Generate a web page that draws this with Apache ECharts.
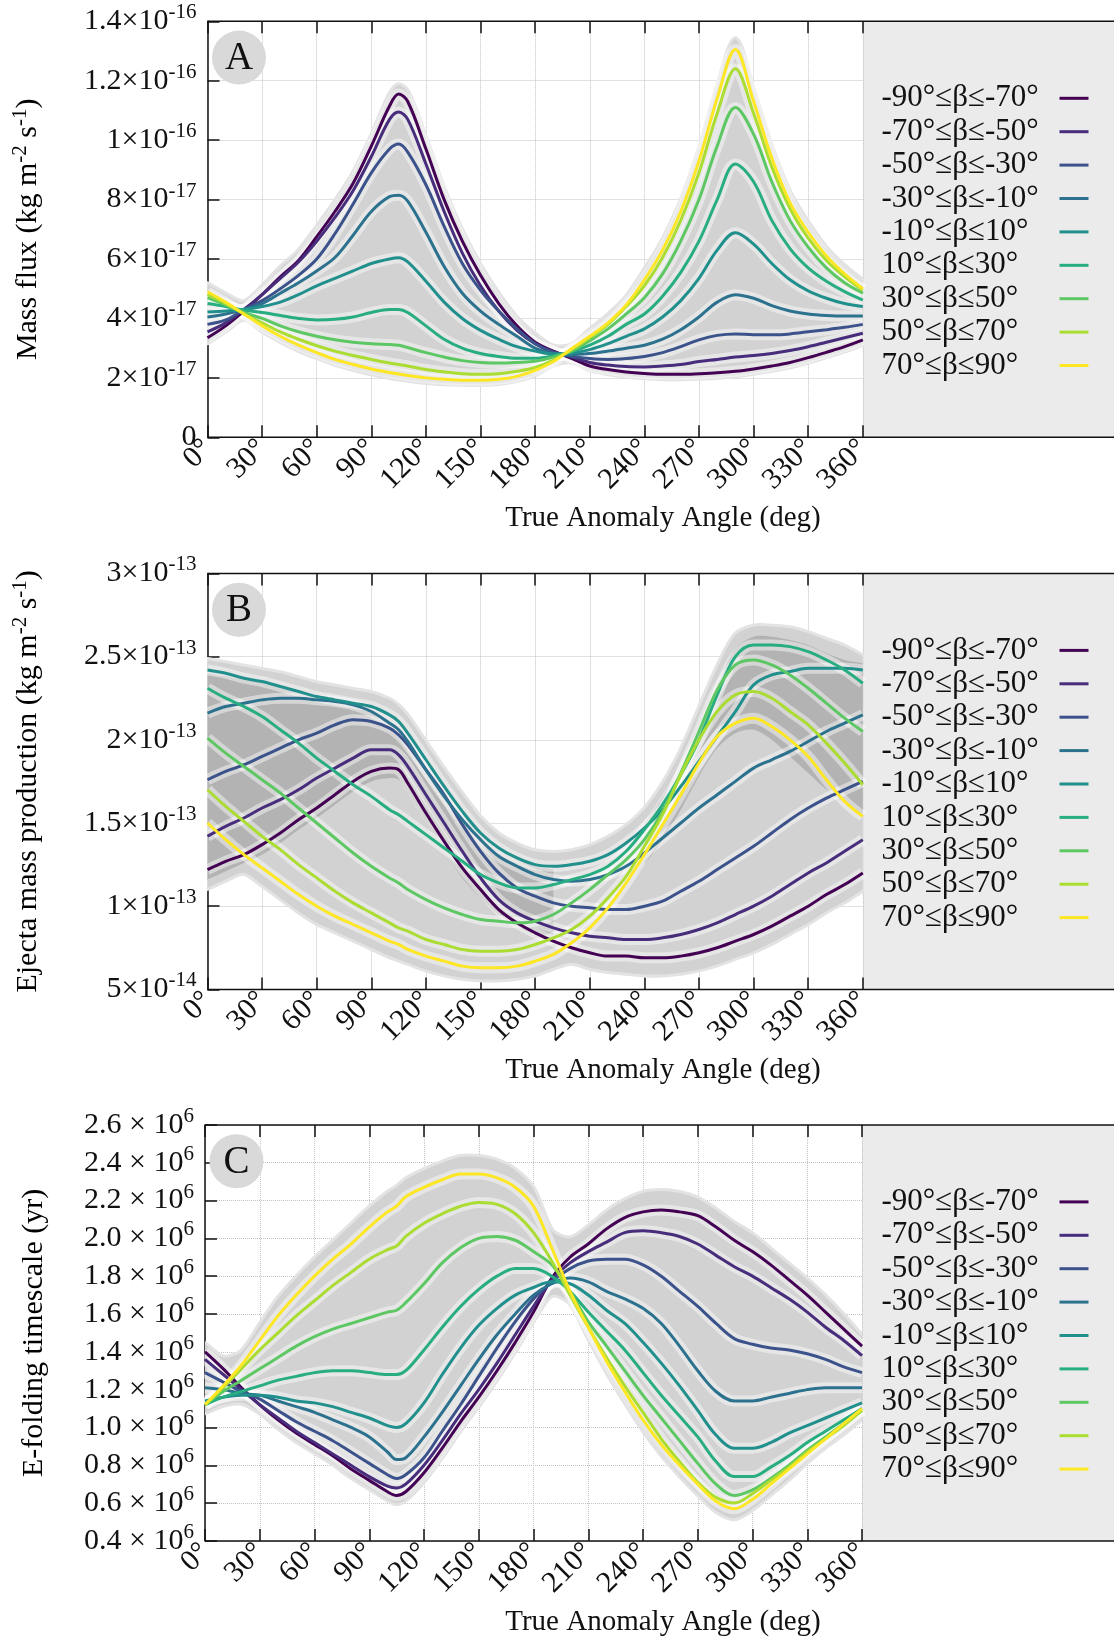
<!DOCTYPE html>
<html>
<head>
<meta charset="utf-8">
<script src="https://cdn.jsdelivr.net/npm/echarts@6/dist/echarts.min.js"></script>
<style>
  html, body { margin: 0; padding: 0; background: #fff; }
  #chart { width: 1114px; height: 1642px; }
</style>
</head>
<body>
<div id="chart"></div>
<script>
// true anomaly angle (deg), shared by all three panels
const angles = [0,10,20,30,40,50,60,70,80,90,100,105,110,120,130,140,150,160,170,180,190,200,210,220,230,240,250,260,270,280,290,300,310,320,330,340,350,360];

const bandNames = ['-90°≤β≤-70°','-70°≤β≤-50°','-50°≤β≤-30°','-30°≤β≤-10°','-10°≤β≤10°','10°≤β≤30°','30°≤β≤50°','50°≤β≤70°','70°≤β≤90°'];
const bandColors = ['#440154','#472D7B','#3B528B','#2C728E','#21908C','#27AD81','#5DC863','#AADC32','#FDE725'];

const xTickLabels = ['0°','30°','60°','90°','120°','150°','180°','210°','240°','270°','300°','330°','360°'];

// ---- panel A : mass flux, in units of 1e-17 kg m^-2 s^-1 ----
const fluxA0 = [3.35,3.75,4.25,4.8,5.4,5.95,6.75,7.6,8.55,9.8,11.15,11.55,11.3,9.7,8.0,6.6,5.45,4.5,3.75,3.2,2.9,2.66,2.4,2.28,2.2,2.15,2.12,2.12,2.14,2.17,2.22,2.3,2.4,2.52,2.68,2.86,3.05,3.28];
const fluxA1 = [3.55,3.85,4.3,4.8,5.35,5.9,6.6,7.4,8.3,9.45,10.7,10.95,10.7,9.2,7.6,6.2,5.1,4.25,3.6,3.15,2.88,2.7,2.52,2.43,2.38,2.37,2.4,2.45,2.55,2.62,2.7,2.75,2.82,2.92,3.05,3.2,3.35,3.5];
const fluxA2 = [3.8,3.95,4.3,4.6,5.0,5.45,6.0,6.85,7.85,8.9,9.7,9.87,9.6,8.5,7.1,5.85,4.95,4.25,3.65,3.15,2.86,2.72,2.65,2.62,2.65,2.72,2.85,3.05,3.28,3.43,3.48,3.45,3.45,3.48,3.55,3.62,3.7,3.8];
const fluxA3 = [4.05,4.15,4.3,4.5,4.85,5.2,5.6,6.05,6.8,7.6,8.1,8.15,7.95,6.9,5.75,4.85,4.25,3.8,3.4,3.0,2.82,2.78,2.82,2.9,3.0,3.1,3.3,3.62,4.05,4.55,4.8,4.68,4.43,4.25,4.15,4.1,4.08,4.08];
const fluxA4 = [4.22,4.25,4.3,4.4,4.55,4.8,5.1,5.35,5.6,5.85,6.0,6.04,5.9,5.25,4.55,4.0,3.6,3.3,3.05,2.9,2.8,2.83,2.95,3.15,3.4,3.65,4.05,4.6,5.35,6.3,6.88,6.5,5.85,5.3,4.93,4.68,4.5,4.4];
const fluxA5 = [4.5,4.4,4.28,4.2,4.1,4.0,3.95,3.97,4.05,4.2,4.3,4.3,4.2,3.75,3.3,3.0,2.82,2.72,2.66,2.66,2.74,2.88,3.1,3.4,3.8,4.15,4.75,5.55,6.6,8.0,9.2,8.6,7.3,6.35,5.7,5.25,4.9,4.62];
const fluxA6 = [4.7,4.45,4.2,4.0,3.75,3.55,3.4,3.28,3.2,3.15,3.12,3.1,3.02,2.85,2.7,2.58,2.52,2.5,2.52,2.56,2.7,2.9,3.25,3.65,4.15,4.7,5.5,6.6,8.0,9.8,11.1,10.2,8.6,7.3,6.4,5.7,5.2,4.85];
const fluxA7 = [4.8,4.5,4.15,3.85,3.55,3.3,3.08,2.9,2.75,2.62,2.5,2.45,2.4,2.28,2.2,2.14,2.12,2.14,2.22,2.35,2.6,2.95,3.35,3.8,4.4,5.1,6.05,7.3,8.9,10.9,12.4,10.9,9.1,7.7,6.7,5.95,5.4,4.95];
const fluxA8 = [4.9,4.55,4.15,3.75,3.4,3.1,2.85,2.62,2.45,2.3,2.18,2.13,2.08,2.0,1.95,1.92,1.92,1.95,2.05,2.25,2.55,2.98,3.4,3.85,4.45,5.3,6.3,7.6,9.3,11.4,13.05,11.3,9.4,7.9,6.9,6.1,5.5,5.0];
const envHiA = [5.15,4.8,4.55,5.05,5.7,6.25,7.05,7.9,8.85,10.1,11.5,11.85,11.6,10.0,8.3,6.9,5.75,4.8,4.0,3.45,3.05,3.1,3.6,4.1,4.7,5.6,6.6,7.9,9.6,11.7,13.4,11.6,9.7,8.2,7.2,6.35,5.75,5.25];
const envLoA = [3.2,3.6,4.0,3.6,3.25,2.95,2.7,2.48,2.3,2.15,2.03,1.98,1.94,1.86,1.82,1.8,1.8,1.83,1.93,2.12,2.45,2.55,2.29,2.16,2.07,2.02,1.99,1.99,2.01,2.04,2.09,2.17,2.27,2.39,2.55,2.73,2.92,3.15];
const yLabelsA = [['0',''],['2×10','-17'],['4×10','-17'],['6×10','-17'],['8×10','-17'],['1×10','-16'],['1.2×10','-16'],['1.4×10','-16']];

// ---- panel B : ejecta mass production, in units of 1e-13 kg m^-2 s^-1 ----
const ejectaB0 = [1.22,1.27,1.31,1.37,1.44,1.52,1.59,1.67,1.75,1.81,1.83,1.82,1.74,1.56,1.39,1.23,1.1,0.98,0.9,0.84,0.79,0.75,0.72,0.7,0.7,0.69,0.69,0.7,0.72,0.75,0.79,0.83,0.88,0.94,1.0,1.07,1.13,1.2];
const ejectaB1 = [1.42,1.48,1.53,1.59,1.64,1.7,1.77,1.83,1.89,1.94,1.94,1.91,1.84,1.67,1.5,1.33,1.17,1.04,0.96,0.91,0.87,0.84,0.82,0.81,0.8,0.8,0.81,0.83,0.86,0.9,0.95,1.0,1.06,1.13,1.2,1.26,1.33,1.4];
const ejectaB2 = [1.76,1.81,1.85,1.9,1.95,2.0,2.04,2.09,2.12,2.11,2.07,2.03,1.97,1.82,1.67,1.49,1.33,1.2,1.11,1.06,1.02,1.0,0.99,0.98,0.98,1.0,1.03,1.09,1.15,1.22,1.29,1.36,1.44,1.52,1.59,1.65,1.7,1.75];
const ejectaB3 = [2.16,2.2,2.22,2.24,2.25,2.25,2.24,2.23,2.21,2.17,2.1,2.06,1.99,1.82,1.66,1.52,1.4,1.3,1.24,1.19,1.16,1.15,1.16,1.19,1.24,1.32,1.41,1.5,1.59,1.67,1.75,1.83,1.88,1.93,1.99,2.05,2.1,2.15];
const ejectaB4 = [2.42,2.4,2.37,2.35,2.32,2.29,2.26,2.24,2.22,2.2,2.15,2.11,2.04,1.88,1.72,1.57,1.44,1.35,1.29,1.25,1.24,1.25,1.27,1.31,1.38,1.47,1.58,1.72,1.87,2.02,2.17,2.33,2.39,2.41,2.43,2.43,2.43,2.42];
const ejectaB5 = [2.31,2.25,2.2,2.14,2.06,1.98,1.89,1.81,1.73,1.66,1.58,1.55,1.51,1.43,1.35,1.27,1.19,1.14,1.11,1.11,1.13,1.16,1.19,1.24,1.33,1.46,1.61,1.79,2.0,2.27,2.5,2.57,2.57,2.56,2.53,2.48,2.42,2.34];
const ejectaB6 = [2.01,1.92,1.84,1.76,1.68,1.59,1.5,1.41,1.32,1.24,1.17,1.14,1.1,1.04,0.99,0.95,0.92,0.91,0.9,0.91,0.95,1.02,1.1,1.19,1.28,1.4,1.57,1.8,2.05,2.3,2.45,2.48,2.45,2.39,2.31,2.22,2.13,2.05];
const ejectaB7 = [1.7,1.6,1.51,1.42,1.34,1.25,1.17,1.09,1.02,0.96,0.9,0.87,0.85,0.8,0.77,0.74,0.73,0.73,0.74,0.77,0.81,0.86,0.94,1.05,1.18,1.36,1.55,1.79,2.0,2.17,2.27,2.29,2.25,2.17,2.09,1.98,1.86,1.73];
const ejectaB8 = [1.5,1.4,1.31,1.23,1.15,1.07,1.0,0.94,0.89,0.84,0.79,0.77,0.74,0.7,0.67,0.64,0.63,0.63,0.64,0.67,0.71,0.78,0.87,0.99,1.14,1.31,1.49,1.67,1.86,2.02,2.1,2.13,2.08,2.0,1.9,1.76,1.63,1.54];
const envHiB = [2.48,2.46,2.44,2.42,2.4,2.37,2.34,2.32,2.3,2.28,2.24,2.2,2.14,1.98,1.82,1.67,1.53,1.43,1.37,1.33,1.32,1.33,1.36,1.41,1.48,1.58,1.73,1.93,2.18,2.43,2.63,2.68,2.68,2.67,2.64,2.6,2.56,2.5];
const envLoB = [1.11,1.16,1.2,1.13,1.05,0.97,0.9,0.85,0.8,0.75,0.7,0.68,0.66,0.62,0.59,0.57,0.56,0.56,0.57,0.59,0.63,0.66,0.63,0.61,0.6,0.59,0.59,0.6,0.62,0.65,0.69,0.73,0.78,0.84,0.9,0.97,1.03,1.1];
// darker zones where many spreads overlap (null = none)
const overlapHiB = [2.4,2.38,2.36,2.34,2.31,2.28,2.26,2.24,2.22,2.19,2.14,2.1,2.03,1.87,1.71,1.56,1.43,1.34,1.28,1.24,1.22,null,null,null,null,1.5,1.66,1.85,2.07,2.33,2.55,2.62,2.62,2.6,2.57,2.52,2.48,2.46];
const overlapLoB = [1.16,1.21,1.26,1.31,1.38,1.46,1.53,1.61,1.69,1.75,1.77,1.76,1.68,1.5,1.33,1.17,1.05,0.95,0.88,0.83,0.8,null,null,null,null,1.25,1.4,1.58,1.78,1.95,2.04,2.06,2.0,1.9,1.8,1.7,1.62,1.55];
const yLabelsB = [['5×10','-14'],['1×10','-13'],['1.5×10','-13'],['2×10','-13'],['2.5×10','-13'],['3×10','-13']];

// ---- panel C : e-folding timescale, in units of 1e6 yr ----
const efoldC0 = [1.4,1.31,1.21,1.12,1.04,0.97,0.91,0.85,0.78,0.72,0.66,0.64,0.66,0.76,0.89,1.03,1.16,1.3,1.45,1.61,1.79,1.9,1.97,2.05,2.11,2.14,2.15,2.14,2.12,2.06,1.99,1.93,1.86,1.78,1.7,1.61,1.52,1.43];
const efoldC1 = [1.36,1.28,1.2,1.12,1.05,0.98,0.92,0.86,0.8,0.74,0.69,0.68,0.7,0.8,0.93,1.07,1.2,1.34,1.49,1.64,1.78,1.87,1.93,1.98,2.03,2.04,2.03,2.01,1.97,1.91,1.85,1.8,1.74,1.68,1.61,1.53,1.46,1.38];
const efoldC2 = [1.29,1.24,1.19,1.15,1.09,1.03,0.98,0.93,0.87,0.81,0.75,0.73,0.75,0.84,0.98,1.12,1.27,1.42,1.56,1.68,1.77,1.84,1.88,1.89,1.89,1.86,1.8,1.72,1.64,1.55,1.47,1.44,1.42,1.41,1.39,1.36,1.32,1.29];
const efoldC3 = [1.21,1.2,1.18,1.17,1.14,1.11,1.08,1.04,1.0,0.95,0.87,0.83,0.84,0.95,1.08,1.22,1.36,1.49,1.6,1.7,1.76,1.79,1.77,1.72,1.68,1.63,1.55,1.43,1.3,1.19,1.14,1.14,1.16,1.18,1.2,1.21,1.21,1.21];
const efoldC4 = [1.14,1.16,1.17,1.17,1.16,1.14,1.13,1.11,1.08,1.05,1.01,1.0,1.02,1.13,1.28,1.42,1.54,1.63,1.7,1.74,1.77,1.76,1.7,1.62,1.55,1.45,1.34,1.22,1.09,0.96,0.89,0.89,0.92,0.97,1.01,1.05,1.09,1.13];
const efoldC5 = [1.12,1.16,1.19,1.22,1.25,1.27,1.29,1.3,1.3,1.29,1.28,1.28,1.3,1.41,1.53,1.64,1.73,1.8,1.84,1.84,1.8,1.72,1.61,1.51,1.41,1.29,1.17,1.06,0.95,0.82,0.74,0.74,0.79,0.85,0.92,0.98,1.04,1.1];
const efoldC6 = [1.12,1.19,1.25,1.31,1.37,1.43,1.48,1.52,1.55,1.58,1.61,1.62,1.66,1.76,1.87,1.95,2.0,2.01,1.99,1.93,1.86,1.72,1.56,1.43,1.3,1.17,1.05,0.93,0.81,0.7,0.64,0.67,0.73,0.8,0.88,0.95,1.02,1.09];
const efoldC7 = [1.12,1.21,1.31,1.41,1.5,1.59,1.67,1.75,1.82,1.89,1.94,1.96,2.01,2.08,2.13,2.17,2.19,2.18,2.13,2.03,1.88,1.7,1.53,1.37,1.22,1.08,0.94,0.82,0.71,0.63,0.6,0.65,0.72,0.79,0.87,0.94,1.01,1.09];
const efoldC8 = [1.12,1.22,1.33,1.46,1.59,1.7,1.8,1.89,1.97,2.06,2.14,2.17,2.22,2.27,2.31,2.34,2.34,2.32,2.27,2.17,1.95,1.72,1.53,1.35,1.19,1.04,0.91,0.8,0.7,0.61,0.57,0.62,0.7,0.78,0.86,0.94,1.02,1.1];
const envHiC = [1.44,1.37,1.4,1.54,1.68,1.79,1.89,1.98,2.07,2.16,2.24,2.27,2.31,2.36,2.4,2.43,2.43,2.41,2.36,2.26,2.04,2.0,2.06,2.14,2.2,2.24,2.25,2.24,2.21,2.15,2.08,2.02,1.94,1.86,1.78,1.69,1.59,1.48];
const envLoC = [1.08,1.12,1.13,1.08,1.0,0.93,0.87,0.81,0.74,0.68,0.62,0.6,0.62,0.72,0.85,0.99,1.12,1.26,1.41,1.57,1.7,1.66,1.48,1.3,1.14,0.99,0.86,0.75,0.65,0.56,0.52,0.57,0.65,0.73,0.82,0.9,0.97,1.05];
const yLabelsC = [['0.4 × 10','6'],['0.6 × 10','6'],['0.8 × 10','6'],['1.0 × 10','6'],['1.2 × 10','6'],['1.4 × 10','6'],['1.6 × 10','6'],['1.8 × 10','6'],['2.0 × 10','6'],['2.2 × 10','6'],['2.4 × 10','6'],['2.6 × 10','6']];

const FONT = '"Liberation Serif", "DejaVu Serif", serif';
const PAGE_W = 1114;
const SMOOTH = 0.35;

const panels = [
  { letter: 'A', left: 207.5, top: 21.3, width: 655.3, height: 416, ymin: 0, ymax: 14, yint: 2,
    lines: [fluxA0, fluxA1, fluxA2, fluxA3, fluxA4, fluxA5, fluxA6, fluxA7, fluxA8],
    hi: envHiA, lo: envLoA, yLabels: yLabelsA,
    ytitle: '{t|Mass flux (kg m}{s|-2}{t| s}{s|-1}{t|)}', ytitleX: 28 },
  { letter: 'B', left: 207.5, top: 573.4, width: 655.3, height: 416, ymin: 0.5, ymax: 3.0, yint: 0.5,
    lines: [ejectaB0, ejectaB1, ejectaB2, ejectaB3, ejectaB4, ejectaB5, ejectaB6, ejectaB7, ejectaB8],
    hi: envHiB, lo: envLoB, darkHi: overlapHiB, darkLo: overlapLoB, yLabels: yLabelsB,
    ytitle: '{t|Ejecta mass production (kg m}{s|-2}{t| s}{s|-1}{t|)}', ytitleX: 28 },
  { letter: 'C', left: 205, top: 1124.9, width: 657, height: 416, ymin: 0.4, ymax: 2.6, yint: 0.2,
    lines: [efoldC0, efoldC1, efoldC2, efoldC3, efoldC4, efoldC5, efoldC6, efoldC7, efoldC8],
    hi: envHiC, lo: envLoC, yLabels: yLabelsC,
    ytitle: '{t|E-folding timescale (yr)}', ytitleX: 34 }
];

const pairs = arr => angles.map((a, k) => [a, arr[k]]);

// custom series renderer: closed band between hi and lo, split at nulls
function bandSeries(p, i, hiArr, loArr, fill, rim) {
  return {
    type: 'custom', xAxisIndex: 2 * i, yAxisIndex: i, silent: true, clip: true, z: 1,
    data: angles.map((a, k) => [a, loArr[k], hiArr[k]]),
    renderItem: (params, api) => {
      if (params.dataIndex !== 0) return null;
      const segs = [];
      let cur = null;
      angles.forEach((a, k) => {
        if (hiArr[k] == null) { cur = null; return; }
        if (!cur) { cur = []; segs.push(cur); }
        cur.push(k);
      });
      const children = [];
      segs.forEach(ks => {
        const top = ks.map(k => api.coord([angles[k], hiArr[k]]));
        const bot = ks.map(k => api.coord([angles[k], loArr[k]])).reverse();
        const pts = [top[0]].concat(top, [top[top.length - 1], bot[0]], bot, [bot[bot.length - 1]]);
        if (rim) {
          children.push({ type: 'polygon', shape: { points: pts, smooth: 0.3 },
                          style: { fill: 'none', stroke: rim, lineWidth: 6, lineJoin: 'round' } });
        }
        children.push({ type: 'polygon', shape: { points: pts, smooth: 0.3 }, style: { fill: fill } });
      });
      return { type: 'group', children };
    }
  };
}

const grid = [], xAxis = [], yAxis = [], series = [], legend = [], graphic = [];

panels.forEach((p, i) => {
  grid.push({ left: p.left, top: p.top, width: p.width, height: p.height });

  const tickStyle = { show: true, inside: true, length: 12, lineStyle: { color: '#111', width: 1.5 } };
  xAxis.push({
    type: 'value', gridIndex: i, min: 0, max: 360, interval: 30, position: 'bottom',
    axisLine: { show: false }, axisTick: tickStyle,
    axisLabel: { rotate: 45, margin: 7, color: '#111', fontFamily: FONT, fontSize: 30,
                 formatter: (v, idx) => xTickLabels[idx] },
    splitLine: { show: true, lineStyle: { color: '#c2c2c2', type: 'dotted', width: 1 } }
  });
  xAxis.push({
    type: 'value', gridIndex: i, min: 0, max: 360, interval: 30, position: 'top',
    axisLine: { show: false }, axisTick: tickStyle, axisLabel: { show: false }, splitLine: { show: false }
  });
  yAxis.push({
    type: 'value', gridIndex: i, min: p.ymin, max: p.ymax, interval: p.yint,
    axisLine: { show: true, lineStyle: { color: '#111', width: 1.5 } },
    axisTick: tickStyle,
    axisLabel: {
      margin: 11, color: '#111', fontFamily: FONT,
      formatter: (v, idx) => {
        const l = p.yLabels[idx];
        return l[1] ? '{b|' + l[0] + '}{s|' + l[1] + '}' : '{b|' + l[0] + '}';
      },
      rich: {
        b: { fontFamily: FONT, fontSize: 30, color: '#111' },
        s: { fontFamily: FONT, fontSize: 21, color: '#111', padding: [0, 0, 17, 0] }
      }
    },
    splitLine: { show: true, lineStyle: { color: '#c2c2c2', type: 'dotted', width: 1 } }
  });

  // grey spread envelope
  series.push(bandSeries(p, i, p.hi, p.lo, '#d2d2d2', '#e3e3e3'));
  if (p.darkHi) series.push(bandSeries(p, i, p.darkHi, p.darkLo, '#b3b3b3', null));

  // light halo under each curve
  p.lines.forEach((arr, j) => {
    series.push({
      name: 'halo-' + p.letter + j, type: 'line', xAxisIndex: 2 * i, yAxisIndex: i,
      data: pairs(arr), symbol: 'none', smooth: SMOOTH, silent: true,
      lineStyle: { color: '#ffffff', width: 11, opacity: 0.45 }, z: 2
    });
  });
  p.lines.forEach((arr, j) => {
    series.push({
      name: bandNames[j], type: 'line', xAxisIndex: 2 * i, yAxisIndex: i,
      data: pairs(arr), symbol: 'none', smooth: SMOOTH,
      lineStyle: { color: bandColors[j], width: 3 }, itemStyle: { color: bandColors[j] }, z: 3
    });
  });

  legend.push({
    data: bandNames, orient: 'vertical', left: 876.5, top: p.top + 55.5,
    itemGap: 0.4, align: 'right', icon: 'rect', itemWidth: 29, itemHeight: 3, selectedMode: false,
    formatter: '{n|{name}}',
    textStyle: { fontFamily: FONT, fontSize: 31, color: '#111', lineHeight: 33,
                 rich: { n: { fontFamily: FONT, fontSize: 31, color: '#111', width: 173, align: 'left', lineHeight: 33 } } }
  });

  const right = p.left + p.width, bottom = p.top + p.height;
  graphic.push({ type: 'rect', shape: { x: right, y: p.top, width: PAGE_W - right, height: p.height },
                 style: { fill: '#ebebeb' }, z: 0 });
  graphic.push({ type: 'line', shape: { x1: p.left, y1: p.top, x2: PAGE_W, y2: p.top },
                 style: { stroke: '#111', lineWidth: 1.5 }, z: 10 });
  graphic.push({ type: 'line', shape: { x1: p.left, y1: bottom, x2: PAGE_W, y2: bottom },
                 style: { stroke: '#111', lineWidth: 1.5 }, z: 10 });
  graphic.push({ type: 'circle', shape: { cx: p.left + 31.5, cy: p.top + 36.3, r: 27 },
                 style: { fill: '#d9d9d9' }, z: 10 });
  graphic.push({ type: 'text', x: p.left + 31.5, y: p.top + 37.5, z: 11,
                 style: { text: p.letter, fontFamily: FONT, fontSize: 39, fill: '#111', align: 'center', verticalAlign: 'middle' } });
  graphic.push({ type: 'text', x: p.ytitleX, y: p.top + p.height / 2, rotation: Math.PI / 2, z: 11,
                 style: { text: p.ytitle, align: 'center', verticalAlign: 'middle',
                          rich: { t: { fontFamily: FONT, fontSize: 30, color: '#111' },
                                  s: { fontFamily: FONT, fontSize: 21, color: '#111', padding: [0, 0, 16, 0] } } } });
  graphic.push({ type: 'text', x: 663, y: bottom + 81, z: 11,
                 style: { text: 'True Anomaly Angle (deg)', fontFamily: FONT, fontSize: 29, fill: '#111',
                          align: 'center', verticalAlign: 'middle' } });
});

const chart = echarts.init(document.getElementById('chart'), null, { renderer: 'canvas' });
chart.setOption({
  animation: false,
  backgroundColor: '#ffffff',
  grid, xAxis, yAxis, series, legend, graphic
});
</script>
</body>
</html>
